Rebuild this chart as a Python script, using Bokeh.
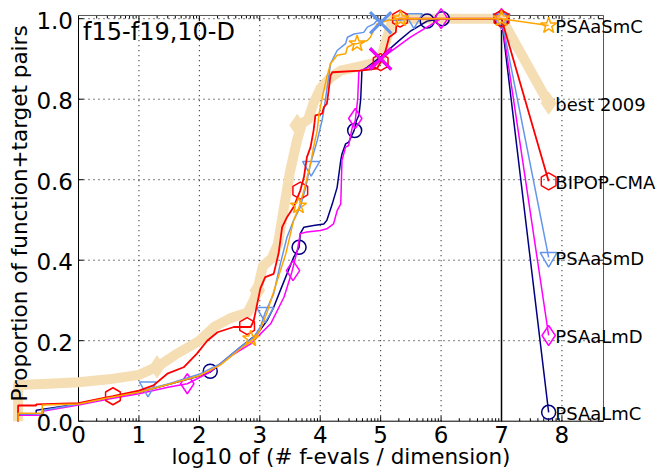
import math
from bokeh.plotting import figure
from bokeh.models import Range1d, Label
from bokeh.embed import file_html
from bokeh.resources import INLINE

# ---------------- data ----------------
xticks = [0, 1, 2, 3, 4, 5, 6, 7, 8]
xtick_labels = ["0", "1", "2", "3", "4", "5", "6", "7", "8"]
yticks = [0.0, 0.2, 0.4, 0.6, 0.8, 1.0]
ytick_labels = ["0.0", "0.2", "0.4", "0.6", "0.8", "1.0"]

best_x = [-1.0, -1.0, -0.5, 0.0, 0.5, 1.0, 1.3, 1.6, 2.0, 2.25, 2.5, 2.8, 2.9, 2.96, 3.05, 3.2, 3.3,
          3.4, 3.5, 3.62, 3.7, 3.8, 3.89, 4.0, 4.17, 4.34, 4.6, 4.9, 5.0, 5.1, 5.2, 7.0, 7.78]
best_y = [0.0, 0.09, 0.093, 0.097, 0.104, 0.115, 0.135, 0.165, 0.2, 0.235, 0.255, 0.27, 0.3, 0.325, 0.385,
          0.405, 0.44, 0.53, 0.62, 0.70, 0.74, 0.75, 0.79, 0.826, 0.854, 0.871, 0.88, 0.89, 0.9, 0.95,
          1.0, 1.0, 0.79]
best_mx = [1.3, 2.96, 3.62, 7.0, 7.78]
best_my = [0.135, 0.325, 0.735, 1.0, 0.79]

bipop_x = [-1.0, -1.0, -0.7, -0.7, 0.0, 0.36, 0.57, 1.0, 1.24, 1.47, 1.74, 1.96, 2.13, 2.3, 2.57, 2.85,
           2.9, 3.01, 3.09, 3.23, 3.31, 3.37, 3.45, 3.56, 3.67, 3.73, 3.78, 3.84, 3.89, 3.92, 4.03, 4.06,
           4.11, 4.14, 4.17, 4.2, 4.67, 4.94, 5.0, 5.08, 5.14, 5.25, 5.27, 5.3, 7.0, 7.78]
bipop_y = [0.0, 0.039, 0.039, 0.042, 0.045, 0.056, 0.062, 0.076, 0.089, 0.118, 0.134, 0.168, 0.2, 0.221,
           0.234, 0.234, 0.25, 0.33, 0.358, 0.366, 0.416, 0.482, 0.507, 0.532, 0.573, 0.606, 0.656, 0.681,
           0.722, 0.76, 0.764, 0.78, 0.789, 0.822, 0.859, 0.867, 0.871, 0.876, 0.892, 0.92, 0.954, 0.966,
           0.996, 1.0, 1.0, 0.596]
bipop_mx = [0.57, 2.79, 3.67, 5.0, 5.32, 7.0, 7.78]
bipop_my = [0.062, 0.236, 0.573, 0.892, 1.0, 1.0, 0.596]

smc_x = [-1.0, -1.0, -0.6, -0.6, 0.0, 0.5, 1.0, 1.5, 2.0, 2.35, 2.68, 2.9, 3.0, 3.12, 3.29, 3.43, 3.56,
         3.65, 3.73, 3.84, 3.89, 3.95, 3.98, 4.06, 4.11, 4.17, 4.28, 4.42, 4.45, 4.56, 4.61, 4.78, 4.83,
         4.94, 5.1, 5.25, 7.0, 7.78]
smc_y = [0.0, 0.02, 0.02, 0.04, 0.043, 0.058, 0.072, 0.092, 0.113, 0.14, 0.18, 0.205, 0.225, 0.27, 0.35,
         0.416, 0.499, 0.532, 0.573, 0.64, 0.681, 0.722, 0.764, 0.822, 0.855, 0.888, 0.909, 0.913, 0.929,
         0.938, 0.938, 0.946, 0.954, 0.987, 0.995, 1.0, 1.0, 0.983]
smc_mx = [2.85, 3.64, 4.61, 5.33, 7.0, 7.78]
smc_my = [0.205, 0.535, 0.938, 1.0, 1.0, 0.983]

smd_x = [-1.0, -1.0, -0.58, -0.58, 0.0, 0.5, 1.03, 1.5, 2.02, 2.35, 2.68, 2.9, 3.01, 3.09, 3.23, 3.34,
         3.45, 3.56, 3.67, 3.76, 3.84, 3.95, 4.03, 4.06, 4.14, 4.17, 4.28, 4.42, 4.45, 4.56, 4.72, 4.78,
         4.89, 4.94, 5.3, 5.5, 7.0, 7.78]
smd_y = [0.0, 0.018, 0.018, 0.027, 0.043, 0.058, 0.075, 0.093, 0.118, 0.143, 0.184, 0.209, 0.234, 0.27,
         0.317, 0.391, 0.457, 0.499, 0.532, 0.581, 0.64, 0.697, 0.747, 0.772, 0.855, 0.888, 0.921, 0.938,
         0.954, 0.962, 0.966, 0.979, 0.987, 0.996, 0.996, 1.0, 1.0, 0.407]
smd_mx = [1.15, 3.09, 3.85, 5.55, 7.0, 7.78]
smd_my = [0.085, 0.27, 0.633, 1.0, 1.0, 0.407]

lmd_x = [-1.0, -1.0, -0.6, -0.6, 0.0, 0.5, 1.0, 1.5, 1.8, 2.13, 2.57, 2.85, 3.01, 3.18, 3.29, 3.4, 3.53,
         3.62, 3.67, 3.78, 4.0, 4.11, 4.22, 4.28, 4.34, 4.36, 4.42, 4.47, 4.53, 4.58, 4.62, 4.64, 4.75,
         5.0, 5.5, 6.0, 7.0, 7.78]
lmd_y = [0.0, 0.015, 0.015, 0.025, 0.04, 0.055, 0.068, 0.085, 0.093, 0.118, 0.167, 0.192, 0.217, 0.242,
         0.275, 0.308, 0.37, 0.424, 0.466, 0.47, 0.474, 0.478, 0.49, 0.523, 0.54, 0.648, 0.681, 0.685,
         0.73, 0.747, 0.8, 0.871, 0.875, 0.9, 0.955, 1.0, 1.0, 0.213]
lmd_mx = [1.8, 3.55, 4.58, 6.0, 7.0, 7.78]
lmd_my = [0.093, 0.374, 0.752, 1.0, 1.0, 0.213]

lmc_x = [-1.0, -1.0, -0.7, -0.7, 0.0, 0.5, 1.0, 1.5, 2.0, 2.18, 2.68, 2.96, 3.12, 3.23, 3.34, 3.45, 3.56,
         3.65, 3.67, 3.73, 3.89, 4.06, 4.11, 4.2, 4.28, 4.34, 4.36, 4.42, 4.47, 4.56, 4.6, 4.64, 4.67,
         4.69, 4.78, 5.0, 5.3, 5.5, 5.77, 6.0, 7.0, 7.78]
lmc_y = [0.0, 0.018, 0.018, 0.027, 0.043, 0.058, 0.072, 0.092, 0.112, 0.122, 0.184, 0.217, 0.25, 0.283,
         0.325, 0.366, 0.407, 0.432, 0.466, 0.482, 0.486, 0.49, 0.499, 0.54, 0.581, 0.648, 0.664, 0.689,
         0.693, 0.722, 0.747, 0.76, 0.8, 0.871, 0.88, 0.905, 0.945, 0.97, 0.994, 1.0, 1.0, 0.022]
lmc_mx = [2.18, 3.65, 4.57, 5.77, 6.02, 7.0, 7.78]
lmc_my = [0.124, 0.432, 0.722, 0.994, 1.0, 1.0, 0.022]

# maximum-evaluation crosses
cross_x = [5.0, 5.0, 5.0]
cross_y = [0.9, 0.9, 0.99]
cross_c = ["#000080", "#FF00FF", "#6495ED"]

names = ["PSAaSmC", "best 2009", "BIPOP-CMA", "PSAaSmD", "PSAaLmD", "PSAaLmC"]
name_y = [0.983, 0.79, 0.596, 0.407, 0.213, 0.022]

# ---------------- layout (frame = whole canvas) ----------------
W, H = 658, 472
PX_X = 60.43          # pixels per x unit
PX_Y = 402.5          # pixels per y unit
X0_PX, Y0_PX = 78.0, 420.7
XMIN, XMAX = -X0_PX / PX_X, (W - X0_PX) / PX_X
YMIN, YMAX = -(H - Y0_PX) / PX_Y, Y0_PX / PX_Y
AX_R = 8.688          # right spine
AX_T = 1.008          # top spine
FONT = "DejaVu Sans"

p = figure(width=W, height=H, x_range=Range1d(XMIN, XMAX), y_range=Range1d(YMIN, YMAX),
           output_backend="svg", toolbar_location=None, x_axis_location=None, y_axis_location=None,
           min_border_left=0, min_border_right=0, min_border_top=0, min_border_bottom=0)
p.grid.visible = False
p.outline_line_color = None
p.background_fill_color = "white"
p.border_fill_color = "white"

# grid (dotted)
gx = [t for t in xticks if t not in (0, 7)]
p.segment(x0=gx, y0=[0] * len(gx), x1=gx, y1=[AX_T] * len(gx), line_color="black",
          line_dash="1 4", line_width=1)
gy = [t for t in yticks if t > 0]
p.segment(x0=[0] * len(gy), y0=gy, x1=[AX_R] * len(gy), y1=gy, line_color="black",
          line_dash="1 4", line_width=1)

# ticks
minor = [k + math.log10(m) for k in range(0, 9) for m in range(2, 10) if k + math.log10(m) < AX_R]
tmaj = 5.0 / PX_Y
tmin = 3.0 / PX_Y
p.segment(x0=xticks, y0=[0] * len(xticks), x1=xticks, y1=[tmaj] * len(xticks), line_color="black")
p.segment(x0=minor, y0=[0] * len(minor), x1=minor, y1=[tmin] * len(minor), line_color="black")
p.segment(x0=xticks, y0=[AX_T] * len(xticks), x1=xticks, y1=[AX_T - tmaj] * len(xticks), line_color="black")
p.segment(x0=minor, y0=[AX_T] * len(minor), x1=minor, y1=[AX_T - tmin] * len(minor), line_color="black")
tx = 5.0 / PX_X
p.segment(x0=[0] * len(yticks), y0=yticks, x1=[tx] * len(yticks), y1=yticks, line_color="black")
p.segment(x0=[AX_R - tx] * len(yticks), y0=yticks, x1=[AX_R] * len(yticks), y1=yticks, line_color="black")

# spines
p.segment(x0=[0, 0, 0, AX_R], y0=[0, 0, AX_T, 0], x1=[AX_R, 0, AX_R, AX_R], y1=[0, AX_T, AX_T, AX_T],
          line_color=["black", "black", "#555555", "#555555"], line_width=1)

# vertical line at 7
p.line([7, 7], [0, AX_T], line_color="black", line_width=1.5)

# best 2009
p.line(best_x, best_y, line_color="#F5DEB3", line_width=10, line_join="round")
p.scatter(best_mx, best_my, marker="diamond", size=22, fill_color="#F5DEB3", line_color="#F5DEB3")

series = [
    (lmc_x, lmc_y, lmc_mx, lmc_my, "#000080", "circle", 14, 0),
    (lmd_x, lmd_y, lmd_mx, lmd_my, "#FF00FF", "diamond", 20, 0),
    (smd_x, smd_y, smd_mx, smd_my, "#6495ED", "inverted_triangle", 17, 0),
    (bipop_x, bipop_y, bipop_mx, bipop_my, "#FF0000", "hex", 17, math.pi / 6),
    (smc_x, smc_y, smc_mx, smc_my, "#FFA500", "star", 17, 0),
]
for sx, sy, mx, my, col, mk, sz, ang in series:
    lw = 1.8 if col == "#FF0000" else 1.5
    p.line(sx, sy, line_color=col, line_width=lw)
    p.scatter(mx, my, marker=mk, size=sz, angle=ang, fill_color=None, line_color=col, line_width=1.5)

for cx, cy, cc in zip(cross_x, cross_y, cross_c):
    p.scatter([cx], [cy], marker="x", size=30, line_color=cc, line_width=3)

# right-hand names
for n, yv in zip(names, name_y):
    p.add_layout(Label(x=7.89, y=yv - 0.003, text=n, text_align="left", text_baseline="middle",
                       text_font_size="18px", text_font=FONT, text_color="black"))

# tick labels
for v, lab in zip(yticks, ytick_labels):
    p.add_layout(Label(x=-5.5 / PX_X, y=v - 0.004, text=lab, text_align="right", text_baseline="middle",
                       text_font_size="23px", text_font=FONT, text_color="black"))
for v, lab in zip(xticks, xtick_labels):
    p.add_layout(Label(x=v, y=-0.033, text=lab, text_align="center", text_baseline="middle",
                       text_font_size="23px", text_font=FONT, text_color="black"))

# titles / axis labels
p.add_layout(Label(x=0.075, y=0.968, text="f15-f19,10-D", text_align="left", text_baseline="alphabetic",
                   text_font_size="24px", text_font=FONT, text_color="black"))
p.add_layout(Label(x=AX_R / 2, y=-0.0866, text="log10 of (# f-evals / dimension)", text_align="center",
                   text_baseline="alphabetic", text_font_size="21.5px", text_font=FONT, text_color="black"))
p.add_layout(Label(x=-0.971, y=0.516, angle=math.pi / 2, text="Proportion of function+target pairs",
                   text_align="center", text_baseline="middle", text_font_size="21.5px", text_font=FONT,
                   text_color="black"))

open("out.html", "w").write(file_html(p, INLINE))
